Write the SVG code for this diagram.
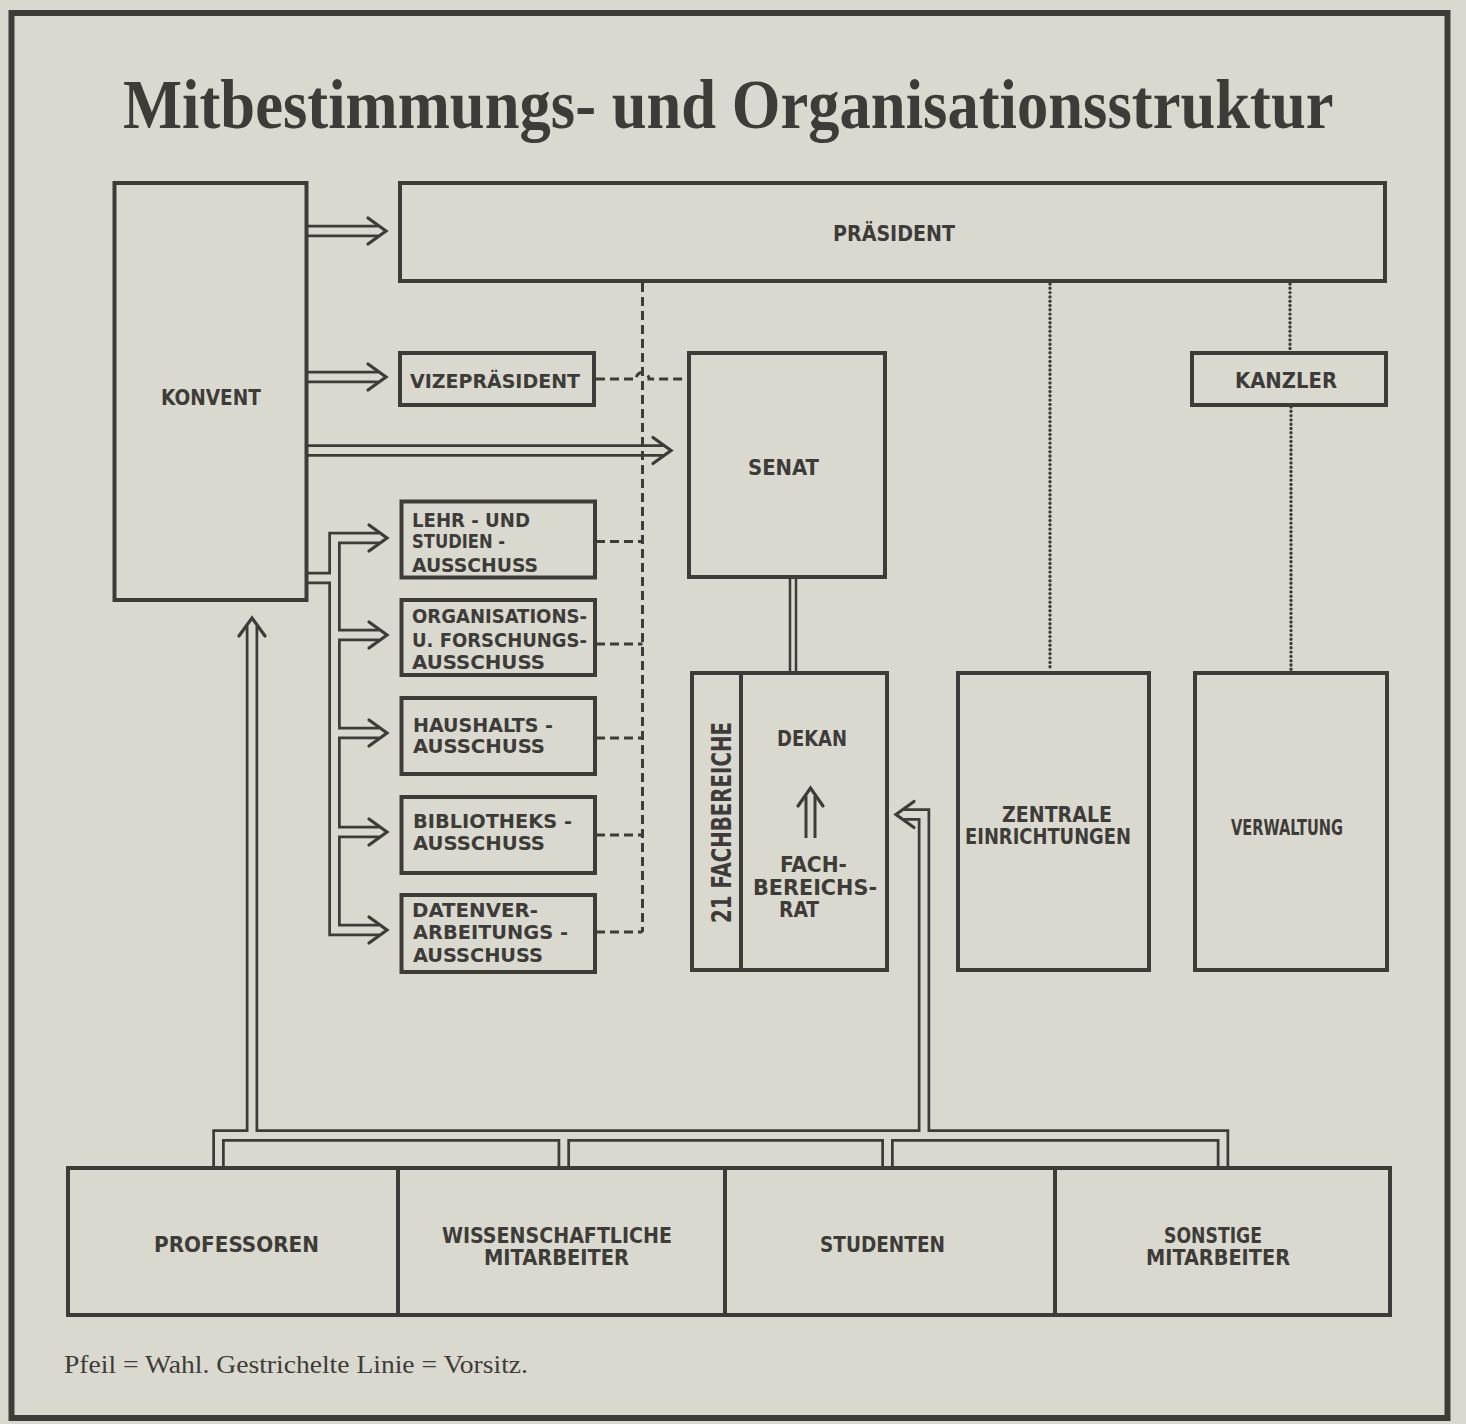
<svg xmlns="http://www.w3.org/2000/svg" width="1466" height="1424" viewBox="0 0 1466 1424">
<defs>
<style>
.box{fill:none;stroke:#3e3c39;stroke-width:4}
.lbl{font-family:'DejaVu Sans Condensed','DejaVu Sans','Liberation Sans',sans-serif;font-weight:bold;fill:#3e3c39}
.big{font-size:22px}
.sm{font-size:20px}
.po{fill:none;stroke:#3e3c39;stroke-width:12.5;stroke-linejoin:miter}
.pi{fill:none;stroke:#dad9cf;stroke-width:7;stroke-linejoin:miter}
.po2{fill:none;stroke:#3e3c39;stroke-width:8.5}
.pi2{fill:none;stroke:#dad9cf;stroke-width:3.5}
.head{fill:none;stroke:#3e3c39;stroke-width:3.2;stroke-linejoin:miter;stroke-linecap:round}
.dash{fill:none;stroke:#3e3c39;stroke-width:3;stroke-dasharray:9 5}
.dot{fill:none;stroke:#3e3c39;stroke-width:3.4;stroke-dasharray:0 4.3;stroke-linecap:round}
</style>
<path id="p1" d="M306 231 H378"/>
<path id="p2" d="M306 377 H378"/>
<path id="p3" d="M306 450.5 H663"/>
<path id="p4" d="M306 578 H334.5"/>
<path id="p5" d="M379 538 H334.5 V930 H379"/>
<path id="p6" d="M334.5 635 H379"/>
<path id="p7" d="M334.5 733 H379"/>
<path id="p8" d="M334.5 832 H379"/>
<path id="p9" d="M218.5 1170 V1135.5 H1223 V1170"/>
<path id="p10" d="M563.8 1135.5 V1170"/>
<path id="p11" d="M887.5 1135.5 V1170"/>
<path id="p12" d="M252 1135.5 V626"/>
<path id="p13" d="M924 1135.5 V814.5 H904"/>
<path id="p14" d="M810.5 838 V796"/>
</defs>
<rect x="0" y="0" width="1466" height="1424" fill="#dad9cf"/>
<rect x="11.5" y="13" width="1436" height="1405" fill="none" stroke="#3e3c39" stroke-width="6"/>
<text transform="translate(123,128) scale(0.8947,1)" x="0" y="0" font-family="'Liberation Serif','Times New Roman',serif" font-weight="bold" font-size="70" fill="#3e3c39" textLength="1353" lengthAdjust="spacingAndGlyphs">Mitbestimmungs- und Organisationsstruktur</text>

<g id="connectors">
  <g id="pipes-outer" class="po">
    <use href="#p1"/><use href="#p2"/><use href="#p3"/><use href="#p4"/><use href="#p5"/><use href="#p6"/><use href="#p7"/><use href="#p8"/><use href="#p9"/><use href="#p10"/><use href="#p11"/><use href="#p12"/><use href="#p13"/>
  </g>
  <use href="#p14" fill="none" stroke="#3e3c39" stroke-width="12"/>
  <path class="po2" d="M793 579 V671"/>
  <g id="pipes-inner" class="pi">
    <use href="#p1"/><use href="#p2"/><use href="#p3"/><use href="#p4"/><use href="#p5"/><use href="#p6"/><use href="#p7"/><use href="#p8"/><use href="#p9"/><use href="#p10"/><use href="#p11"/><use href="#p12"/><use href="#p13"/>
  </g>
  <use href="#p14" fill="none" stroke="#dad9cf" stroke-width="6"/>
  <path class="pi2" d="M793 579 V671"/>
  <g id="arrowheads" class="head">
    <path d="M368 218 L386 231 L368 244"/>
    <path d="M368 364 L386 377 L368 390"/>
    <path d="M653 437.5 L671 450.5 L653 463.5"/>
    <path d="M369 525 L387 538 L369 551"/>
    <path d="M369 622 L387 635 L369 648"/>
    <path d="M369 720 L387 733 L369 746"/>
    <path d="M369 819 L387 832 L369 845"/>
    <path d="M369 917 L387 930 L369 943"/>
    <path d="M239 636 L252 618 L265 636"/>
    <path d="M914 801.5 L896 814.5 L914 827.5"/>
    <path d="M798 806 L810.5 788 L823 806"/>
  </g>
  <g id="chair-lines" class="dash">
    <path d="M642.5 283 V932"/>
    <path d="M596 379 H636 A6.5 6.5 0 0 1 649 379 H689"/>
    <path d="M596 541.5 H642.5"/>
    <path d="M596 644 H642.5"/>
    <path d="M596 738 H642.5"/>
    <path d="M596 835 H642.5"/>
    <path d="M596 932 H642.5"/>
  </g>
  <g id="dotted-lines" class="dot">
    <path d="M1050 284 V671"/>
    <path d="M1290 284 V351"/>
    <path d="M1291 407 V671"/>
  </g>
</g>

<g id="konvent">
  <rect class="box" x="114.5" y="183" width="192" height="417"/>
  <text class="lbl big" x="161" y="405" textLength="100" lengthAdjust="spacingAndGlyphs">KONVENT</text>
</g>
<g id="praesident">
  <rect class="box" x="400" y="183" width="985" height="98"/>
  <text class="lbl big" x="833" y="241" textLength="122" lengthAdjust="spacingAndGlyphs">PRÄSIDENT</text>
</g>
<g id="vizepraesident">
  <rect class="box" x="400" y="353" width="194" height="52"/>
  <text class="lbl sm" x="410" y="388" textLength="170" lengthAdjust="spacingAndGlyphs">VIZEPRÄSIDENT</text>
</g>
<g id="senat">
  <rect class="box" x="689" y="353" width="196" height="224"/>
  <text class="lbl big" x="748" y="475" textLength="71" lengthAdjust="spacingAndGlyphs">SENAT</text>
</g>
<g id="kanzler">
  <rect class="box" x="1192" y="353" width="194" height="52"/>
  <text class="lbl big" x="1235" y="388" textLength="102" lengthAdjust="spacingAndGlyphs">KANZLER</text>
</g>
<g id="lehr-studienausschuss">
  <rect class="box" x="401.5" y="501.5" width="193.5" height="76"/>
  <text class="lbl sm" x="412" y="527" textLength="118" lengthAdjust="spacingAndGlyphs">LEHR - UND</text>
  <text class="lbl sm" x="412" y="548" textLength="93" lengthAdjust="spacingAndGlyphs">STUDIEN -</text>
  <text class="lbl sm" x="412" y="572" textLength="126" lengthAdjust="spacingAndGlyphs">AUSSCHUSS</text>
</g>
<g id="organisationsausschuss">
  <rect class="box" x="401.5" y="600" width="193.5" height="75"/>
  <text class="lbl sm" x="412" y="623" textLength="175" lengthAdjust="spacingAndGlyphs">ORGANISATIONS-</text>
  <text class="lbl sm" x="412" y="647" textLength="175" lengthAdjust="spacingAndGlyphs">U. FORSCHUNGS-</text>
  <text class="lbl sm" x="412" y="669" textLength="133" lengthAdjust="spacingAndGlyphs">AUSSCHUSS</text>
</g>
<g id="haushaltsausschuss">
  <rect class="box" x="401.5" y="698" width="193.5" height="76"/>
  <text class="lbl sm" x="413" y="732" textLength="140" lengthAdjust="spacingAndGlyphs">HAUSHALTS -</text>
  <text class="lbl sm" x="413" y="753" textLength="132" lengthAdjust="spacingAndGlyphs">AUSSCHUSS</text>
</g>
<g id="bibliotheksausschuss">
  <rect class="box" x="401.5" y="797" width="193.5" height="76"/>
  <text class="lbl sm" x="413" y="828" textLength="159" lengthAdjust="spacingAndGlyphs">BIBLIOTHEKS -</text>
  <text class="lbl sm" x="413" y="850" textLength="132" lengthAdjust="spacingAndGlyphs">AUSSCHUSS</text>
</g>
<g id="datenverarbeitungsausschuss">
  <rect class="box" x="401.5" y="895" width="193.5" height="77"/>
  <text class="lbl sm" x="412" y="917" textLength="126" lengthAdjust="spacingAndGlyphs">DATENVER-</text>
  <text class="lbl sm" x="413" y="939" textLength="155" lengthAdjust="spacingAndGlyphs">ARBEITUNGS -</text>
  <text class="lbl sm" x="413" y="962" textLength="130" lengthAdjust="spacingAndGlyphs">AUSSCHUSS</text>
</g>
<g id="fachbereiche">
  <rect class="box" x="692" y="673" width="195" height="297"/>
  <line x1="741" y1="673" x2="741" y2="970" stroke="#3e3c39" stroke-width="4"/>
  <text class="lbl" font-size="27" transform="translate(731,923) rotate(-90)" textLength="201" lengthAdjust="spacingAndGlyphs">21 FACHBEREICHE</text>
  <text class="lbl big" x="777" y="746" textLength="70" lengthAdjust="spacingAndGlyphs">DEKAN</text>
  <text class="lbl big" x="780" y="872" textLength="67" lengthAdjust="spacingAndGlyphs">FACH-</text>
  <text class="lbl big" x="753" y="895" textLength="124" lengthAdjust="spacingAndGlyphs">BEREICHS-</text>
  <text class="lbl big" x="779" y="917" textLength="40" lengthAdjust="spacingAndGlyphs">RAT</text>
</g>
<g id="zentrale-einrichtungen">
  <rect class="box" x="958" y="673" width="191" height="297"/>
  <text class="lbl big" x="1002" y="822" textLength="110" lengthAdjust="spacingAndGlyphs">ZENTRALE</text>
  <text class="lbl big" x="965" y="844" textLength="166" lengthAdjust="spacingAndGlyphs">EINRICHTUNGEN</text>
</g>
<g id="verwaltung">
  <rect class="box" x="1195" y="673" width="192" height="297"/>
  <text class="lbl big" x="1231" y="835" textLength="112" lengthAdjust="spacingAndGlyphs">VERWALTUNG</text>
</g>
<g id="gruppen">
  <rect class="box" x="68" y="1168" width="1322" height="147"/>
  <line x1="398" y1="1168" x2="398" y2="1315" stroke="#3e3c39" stroke-width="4"/>
  <line x1="725" y1="1168" x2="725" y2="1315" stroke="#3e3c39" stroke-width="4"/>
  <line x1="1055" y1="1168" x2="1055" y2="1315" stroke="#3e3c39" stroke-width="4"/>
  <g id="professoren"><text class="lbl big" x="154" y="1252" textLength="165" lengthAdjust="spacingAndGlyphs">PROFESSOREN</text></g>
  <g id="wiss-mitarbeiter">
    <text class="lbl big" x="442" y="1243" textLength="230" lengthAdjust="spacingAndGlyphs">WISSENSCHAFTLICHE</text>
    <text class="lbl big" x="484" y="1265" textLength="145" lengthAdjust="spacingAndGlyphs">MITARBEITER</text>
  </g>
  <g id="studenten"><text class="lbl big" x="820" y="1252" textLength="125" lengthAdjust="spacingAndGlyphs">STUDENTEN</text></g>
  <g id="sonstige-mitarbeiter">
    <text class="lbl big" x="1164" y="1243" textLength="98" lengthAdjust="spacingAndGlyphs">SONSTIGE</text>
    <text class="lbl big" x="1146" y="1265" textLength="144" lengthAdjust="spacingAndGlyphs">MITARBEITER</text>
  </g>
</g>
<text x="64" y="1373" font-family="'Liberation Serif','Times New Roman',serif" font-size="26" fill="#3e3c39" textLength="464" lengthAdjust="spacingAndGlyphs">Pfeil = Wahl. Gestrichelte Linie = Vorsitz.</text>
</svg>
